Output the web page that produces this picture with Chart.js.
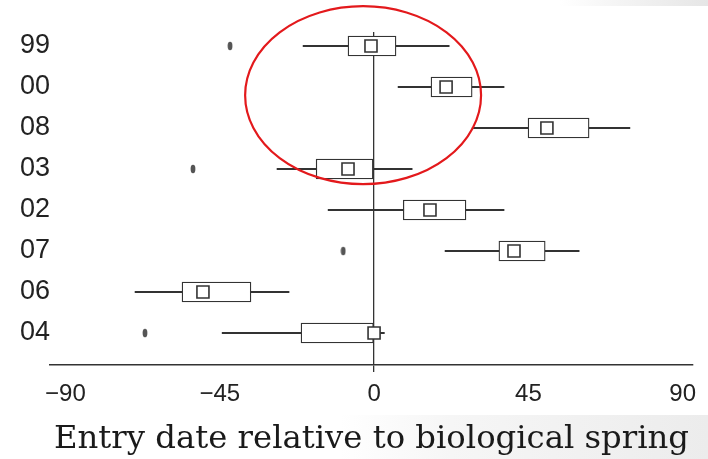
<!DOCTYPE html>
<html>
<head>
<meta charset="utf-8">
<script src="https://cdn.jsdelivr.net/npm/chart.js@4.4.1/dist/chart.umd.min.js"></script>
<style>
  html, body { margin: 0; padding: 0; background: #fff; }
  #wrap {
    position: relative; width: 708px; height: 459px;
    background:
      linear-gradient(to right, #ffffff, #f4f4f4 40%, #e6e6e6) 560px 0 / 148px 6px no-repeat,
      linear-gradient(to right, #ffffff, #f6f6f6 30%, #ececec) 340px 415px / 368px 44px no-repeat,
      #fff;
  }
</style>
</head>
<body>
<div id="wrap"><canvas id="myChart" width="708" height="459"></canvas></div>
<script>
// years, top to bottom
let years = ['99', '00', '08', '03', '02', '07', '06', '04'];
// box plot summary per year (days relative to biological spring)
let whiskerLow  = [-20.7,  7.0, 28.6, -28.3, -13.4, 20.7, -69.7, -44.3];
let q1          = [ -7.6, 16.6, 44.9, -16.9,   8.5, 36.4, -56.0, -21.3];
let medians     = [ -0.9, 21.0, 50.4,  -7.6,  16.3, 40.8, -49.9,   0.0];
let q3          = [  6.4, 28.6, 62.7,  -0.3,  26.8, 49.9, -35.9,   0.0];
let whiskerHigh = [ 21.9, 37.9, 74.6,  11.1,  37.9, 59.8, -24.8,   3.0];
// outliers as [year, value]
let outliers = [['99', -42.0], ['03', -52.8], ['07', -9.0], ['04', -66.8]];
let xTicks = [-90, -45, 0, 45, 90];

/* small oval used as the outlier marker */
let dot = document.createElement('canvas');
dot.width = 6; dot.height = 10;
let dctx = dot.getContext('2d');
dctx.fillStyle = '#555';
dctx.beginPath();
dctx.ellipse(3, 5, 2.4, 4.2, 0, 0, Math.PI * 2);
dctx.fill();

let row = (y) => years.indexOf(y);

/* red ring drawn around the first rows */
let ringPlugin = {
    id: 'ring',
    afterDatasetsDraw(chart) {
        let x = chart.scales.x, y = chart.scales.y;
        let cx = x.getPixelForValue(-3.2);
        let cy = y.getPixelForValue(1.2);
        let rx = Math.abs(x.getPixelForValue(31.2) - cx);
        let ry = Math.abs(y.getPixelForValue(3.37) - cy);
        let ctx = chart.ctx;
        ctx.save();
        ctx.strokeStyle = '#e3191c';
        ctx.lineWidth = 2.2;
        ctx.beginPath();
        ctx.ellipse(cx, cy, rx, ry, 0, 0, Math.PI * 2);
        ctx.stroke();
        ctx.restore();
    }
};

let config = {
    type: 'bar',
    data: {
        datasets: [{
            label: 'whiskers',
            data: years.map((y, i) => ({ x: [whiskerLow[i], whiskerHigh[i]], y: i })),
            backgroundColor: '#333',
            borderWidth: 0,
            barThickness: 1.4,
            grouped: false,
            order: 4
        }, {
            label: 'boxes',
            data: years.map((y, i) => ({ x: [q1[i], q3[i]], y: i })),
            backgroundColor: '#fff',
            borderColor: '#333',
            borderWidth: 1.3,
            borderSkipped: false,
            barThickness: 20,
            grouped: false,
            order: 3
        }, {
            type: 'scatter',
            label: 'median',
            data: years.map((y, i) => ({ x: medians[i], y: i })),
            pointStyle: 'rect',
            pointRadius: 8.5,
            pointBackgroundColor: '#fff',
            pointBorderColor: '#333',
            pointBorderWidth: 1.6,
            order: 2
        }, {
            type: 'scatter',
            label: 'outliers',
            data: outliers.map(o => ({ x: o[1], y: row(o[0]) })),
            pointStyle: dot,
            order: 1
        }]
    },
    options: {
        indexAxis: 'y',
        responsive: false,
        animation: false,
        layout: { padding: { left: 18, right: 15, top: 32, bottom: 0 } },
        plugins: { legend: { display: false }, tooltip: { enabled: false } },
        scales: {
            x: {
                type: 'linear',
                min: -94.5,
                max: 93,
                afterBuildTicks: (scale) => { scale.ticks = xTicks.map(v => ({ value: v })); },
                afterFit: (scale) => { scale.height = 94; },
                grid: {
                    color: (ctx) => (ctx.tick && ctx.tick.value === 0) ? '#333' : 'rgba(0,0,0,0)',
                    lineWidth: 1.3,
                    drawTicks: true,
                    tickLength: 7
                },
                border: { display: true, color: '#333', width: 1.5 },
                ticks: {
                    padding: 8,
                    color: '#222',
                    font: { family: 'Liberation Sans', size: 24 },
                    callback: (v) => v < 0 ? '\u2212' + Math.abs(v) : String(v)
                },
                title: {
                    display: true,
                    text: 'Entry date relative to biological spring',
                    color: '#1a1a1a',
                    font: { family: 'DejaVu Serif', size: 32.3 },
                    padding: { top: 0, bottom: 0 }
                }
            },
            y: {
                type: 'linear',
                reverse: true,
                offset: false,
                min: -0.341,
                max: 7.78,
                afterBuildTicks: (scale) => { scale.ticks = years.map((y, i) => ({ value: i })); },
                afterFit: (scale) => { scale.width = 32; },
                grid: { display: false, drawTicks: false, tickLength: 0 },
                border: { display: false },
                ticks: {
                    padding: 0,
                    color: '#222',
                    font: { family: 'Liberation Sans', size: 27 },
                    callback: (v) => years[v]
                }
            }
        }
    },
    plugins: [ringPlugin]
};

let myChart = new Chart(document.getElementById('myChart'), config);
</script>
</body>
</html>
